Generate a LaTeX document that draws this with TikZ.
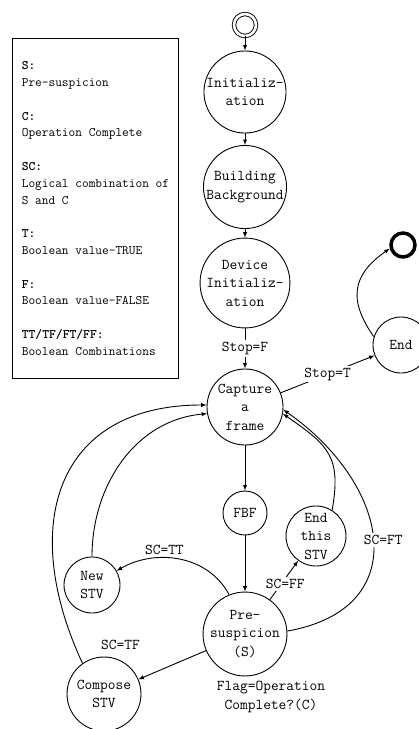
\documentclass[tikz,border=0pt]{standalone}
\begin{document}
\begin{tikzpicture}[x=1pt, y=1pt, line width=0.9pt,
    font=\ttfamily\fontsize{15}{18.5}\selectfont,
    state/.style={draw, circle, inner sep=0pt, align=center},
    lbl/.style={fill=white, inner sep=2pt}]
    \useasboundingbox (0,0) rectangle (419,-729);
    % legend
    \node[draw, anchor=north west, minimum width=166pt, minimum height=340pt,
        align=left, font=\ttfamily\fontsize{13}{16.8}\selectfont] (legend) at (12,-38)
        {\textbf{S:}\\Pre-suspicion\\[16.8pt]
         \textbf{C:}\\Operation Complete\\[16.8pt]
         \textbf{SC:}\\Logical combination of\\S and C\\[16.8pt]
         \textbf{T:}\\Boolean value-TRUE\\[16.8pt]
         \textbf{F:}\\Boolean value-FALSE\\[16.8pt]
         \textbf{TT/TF/FT/FF:}\\Boolean Combinations};
    % states
    \node[state, double, double distance=2.6pt, minimum size=22pt] (start) at (245,-25) {};
    \node[state, minimum size=80pt] (init) at (245,-92) {Initializ-\\ation};
    \node[state, minimum size=80pt] (build) at (245,-187) {Building\\Background};
    \node[state, minimum size=80pt] (device) at (245,-283) {Device\\Initializ-\\ation};
    \node[state, minimum size=76pt] (capture) at (245,-407) {Capture\\a\\frame};
    \node[state, minimum size=44pt] (fbf) at (245,-513) {FBF};
    \node[state, minimum size=82pt] (pre) at (245,-634) {Pre-\\suspicion\\(S)};
    \node[state, minimum size=60pt] (endstv) at (316,-536) {End\\this\\STV};
    \node[state, minimum size=56pt] (newstv) at (92,-585) {New\\STV};
    \node[state, minimum size=74pt] (compose) at (104,-694) {Compose\\STV};
    \node[state, minimum size=56pt] (stop) at (401,-345) {End};
    \node[state, minimum size=24pt, line width=3.5pt] (final) at (403,-245) {};
    \node[align=center] (flag) at (271,-697) {Flag=Operation\\Complete?(C)};
    % transitions
    \draw[-latex] (start) -- (init);
    \draw[-latex] (init) -- (build);
    \draw[-latex] (build) -- (device);
    \draw[-latex] (device) -- node[lbl] {Stop=F} (capture);
    \draw[-latex] (capture) -- node[lbl] {Stop=T} (stop);
    \draw[-latex] (stop.163) to[out=125, in=215, looseness=1.3] (final.195);
    \draw[-latex] (capture) -- (fbf);
    \draw[-latex] (fbf) -- (pre);
    \draw[-latex] (pre.112) to[out=118, in=30] node[above, pos=0.62] {SC=TT} (newstv);
    \draw[-latex] (pre) -- node[lbl, pos=0.4, xshift=4pt] {SC=FF} (endstv);
    \draw[-latex] (pre.4) to[out=10, in=-35, looseness=1.5] node[lbl, xshift=10pt] {SC=FT} (capture.-4);
    \draw[-latex] (endstv.58) to[out=80, in=-35, looseness=1.3] (capture.-10);
    \draw[-latex] (newstv) to[out=90, in=185] (capture.190);
    \draw[-latex] (pre) -- node[at end, above=26pt, xshift=-18pt] {SC=TF} (compose);
    \draw[-latex] (compose.125) to[out=115, in=180, looseness=1.35] (capture.177);
\end{tikzpicture}
\end{document}
